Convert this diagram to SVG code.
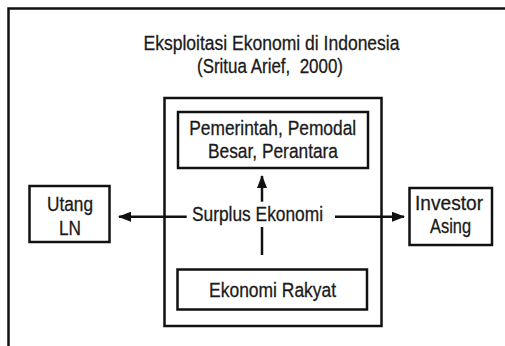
<svg xmlns="http://www.w3.org/2000/svg" width="505" height="346" viewBox="0 0 505 346">
<defs>
<style>
.box{fill:none;stroke:#111;stroke-width:2.5}
.t{font-family:"Liberation Sans",Arial,sans-serif;font-size:20.5px;fill:#1a1a1a;stroke:#1a1a1a;stroke-width:0.3;text-anchor:middle}
.ln{stroke:#111;stroke-width:2.5;fill:none}
</style>
<marker id="ah" viewBox="0 0 13 10" refX="12" refY="5" markerWidth="13" markerHeight="10" markerUnits="userSpaceOnUse" orient="auto">
<path d="M0,0 L13,5 L0,10 z" fill="#111"/>
</marker>
</defs>
<rect width="505" height="346" fill="#fff"/>
<g id="frame">
<path class="box" d="M8.5,346 V8.5 H505"/>
</g>
<g id="title">
<text class="t" x="271.5" y="50" textLength="256" lengthAdjust="spacingAndGlyphs">Eksploitasi Ekonomi di Indonesia</text>
<text class="t" x="270" y="73" textLength="146" lengthAdjust="spacingAndGlyphs">(Sritua Arief,&#160; 2000)</text>
</g>
<g id="container">
<rect class="box" x="164.5" y="98" width="217" height="228"/>
</g>
<g id="pemerintah">
<rect class="box" x="178" y="112" width="190" height="56"/>
<text class="t" x="272.7" y="134.5" textLength="167" lengthAdjust="spacingAndGlyphs">Pemerintah, Pemodal</text>
<text class="t" x="273" y="157.7" textLength="130" lengthAdjust="spacingAndGlyphs">Besar, Perantara</text>
</g>
<g id="rakyat">
<rect class="box" x="177.5" y="269.5" width="189.5" height="40"/>
<text class="t" x="272.6" y="296.5" textLength="127" lengthAdjust="spacingAndGlyphs">Ekonomi Rakyat</text>
</g>
<g id="utang">
<rect class="box" x="29.5" y="186" width="80" height="56"/>
<text class="t" x="70" y="210.5" textLength="46" lengthAdjust="spacingAndGlyphs">Utang</text>
<text class="t" x="70" y="235" textLength="22" lengthAdjust="spacingAndGlyphs">LN</text>
</g>
<g id="investor">
<rect class="box" x="409.5" y="188" width="82.5" height="57"/>
<text class="t" x="449" y="209.5" textLength="68" lengthAdjust="spacingAndGlyphs">Investor</text>
<text class="t" x="450.5" y="232.5" textLength="41" lengthAdjust="spacingAndGlyphs">Asing</text>
</g>
<g id="surplus">
<text class="t" x="257.5" y="221" textLength="131" lengthAdjust="spacingAndGlyphs">Surplus Ekonomi</text>
</g>
<g id="connectors">
<line class="ln" x1="186.7" y1="216.7" x2="119" y2="216.7" marker-end="url(#ah)"/>
<line class="ln" x1="335" y1="216.7" x2="404" y2="216.7" marker-end="url(#ah)"/>
<line class="ln" x1="262" y1="201.7" x2="262" y2="176" marker-end="url(#ah)"/>
<line class="ln" x1="262" y1="227" x2="262" y2="255"/>
</g>
</svg>
